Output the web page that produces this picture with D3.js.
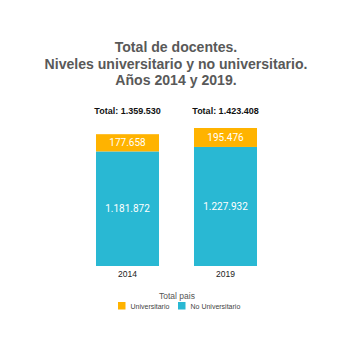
<!DOCTYPE html>
<html><head><meta charset="utf-8">
<script src="https://cdn.jsdelivr.net/npm/d3@7"></script>
<style>body{margin:0;background:#fff}svg{display:block}</style>
</head><body>
<svg id="c" width="350" height="342"></svg>
<script>
const years = ["2014", "2019"];
const universitario = [177658, 195476];
const noUniversitario = [1181872, 1227932];
const totals = [1359530, 1423408];
const seriesNames = ["Universitario", "No Universitario"];
const colors = ["#FFB300", "#29B8D3"];
const titleLines = ["Total de docentes.", "Niveles universitario y no universitario.", "Años 2014 y 2019."];
const fmt = v => d3.format(",")(v).replace(/,/g, ".");

const svg = d3.select("#c");
const x = d3.scaleBand().domain(years).range([47, 306]).paddingInner(0.357).paddingOuter(0.5);
const y = d3.scaleLinear().domain([0, 1423408]).range([266, 128]);

const title = svg.append("g").selectAll("text").data(titleLines).join("text")
  .attr("x", 176).attr("y", (d, i) => 52 + i * 16.5)
  .attr("text-anchor", "middle").attr("font-family", "'Liberation Sans', Arial, sans-serif")
  .attr("font-weight", "bold").attr("font-size", 15).attr("fill", "#595959")
  .text(d => d);
// fit widest line to the reference width
const w = title.nodes()[1].getComputedTextLength();
title.attr("font-size", 15 * 263 / w);

const data = years.map((yr, i) => ({yr, u: universitario[i], n: noUniversitario[i], t: totals[i]}));
const g = svg.append("g");
g.selectAll("rect.n").data(data).join("rect")
  .attr("x", d => x(d.yr)).attr("width", x.bandwidth())
  .attr("y", d => y(d.n)).attr("height", d => y(0) - y(d.n)).attr("fill", colors[1]);
g.selectAll("rect.u").data(data).join("rect")
  .attr("x", d => x(d.yr)).attr("width", x.bandwidth())
  .attr("y", d => y(d.n + d.u)).attr("height", d => y(d.n) - y(d.n + d.u)).attr("fill", colors[0]);

const lab = {"font-family": "Roboto, Arial, sans-serif", "font-size": 10, "text-anchor": "middle"};
function applyAttrs(sel){ for (const k in lab) sel.attr(k, lab[k]); return sel; }

applyAttrs(g.selectAll("text.u").data(data).join("text"))
  .attr("x", d => x(d.yr) + x.bandwidth() / 2).attr("y", d => (y(d.n) + y(d.n + d.u)) / 2 + 3.5)
  .attr("fill", "#fff").text(d => fmt(d.u));
applyAttrs(g.selectAll("text.n").data(data).join("text"))
  .attr("x", d => x(d.yr) + x.bandwidth() / 2).attr("y", d => (y(0) + y(d.n)) / 2 + 3.5)
  .attr("fill", "#fff").text(d => fmt(d.n));
applyAttrs(g.selectAll("text.t").data(data).join("text"))
  .attr("x", d => x(d.yr) + x.bandwidth() / 2).attr("y", 114)
  .attr("fill", "#111").attr("font-weight", "bold").attr("font-size", 9)
  .attr("font-family", "'Liberation Sans', Arial, sans-serif").text(d => "Total: " + fmt(d.t));

const ax = svg.append("g").attr("transform", "translate(0,266)")
  .call(d3.axisBottom(x).tickSize(0).tickPadding(5));
ax.select(".domain").remove();
ax.selectAll("text").attr("font-family", "'Liberation Sans', Arial, sans-serif").attr("font-size", 8.5).attr("fill", "#222");

const leg = svg.append("g");
leg.append("text").attr("x", 177).attr("y", 299).attr("text-anchor", "middle")
  .attr("font-family", "'Liberation Sans', Arial, sans-serif").attr("font-size", 8.5).attr("fill", "#555").text("Total pais");
const legX = [118, 178];
const items = leg.selectAll("g").data(seriesNames).join("g")
  .attr("transform", (d, i) => `translate(${legX[i]},302)`);
items.append("rect").attr("width", 7.5).attr("height", 7.5).attr("fill", (d, i) => colors[i]);
items.append("text").attr("x", 12.5).attr("y", 6.5)
  .attr("font-family", "'Liberation Sans', Arial, sans-serif").attr("font-size", 7).attr("fill", "#444").text(d => d);
</script>
</body></html>
